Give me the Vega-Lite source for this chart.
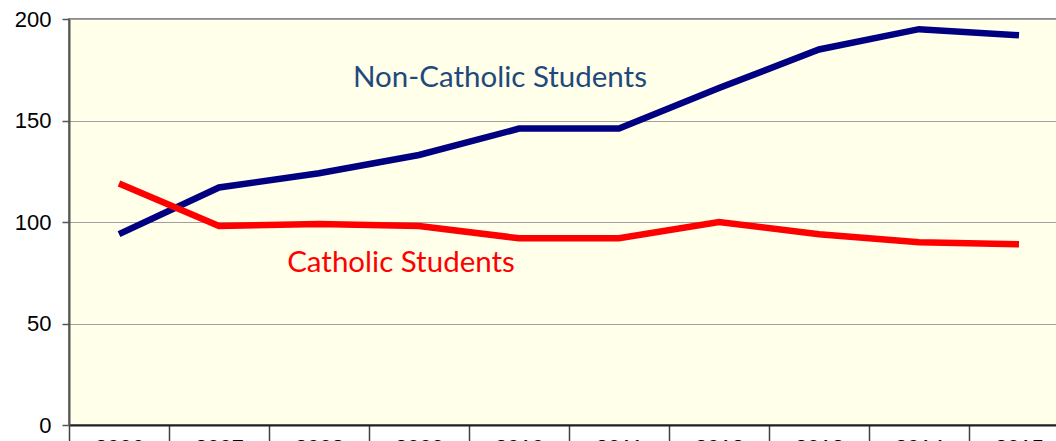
{
  "$schema": "https://vega.github.io/schema/vega-lite/v6.json",
  "width": 1000,
  "height": 406,
  "autosize": "none",
  "padding": {"left": 69, "top": 19, "right": 0, "bottom": 40},
  "background": "white",
  "config": {"view": {"fill": "#FFFFEA", "stroke": "#8C8C8C", "strokeWidth": 2}},
  "datasets": {
    "series": [
      {"year": 2006, "value": 94, "series": "Non-Catholic Students"},
      {"year": 2007, "value": 117, "series": "Non-Catholic Students"},
      {"year": 2008, "value": 124, "series": "Non-Catholic Students"},
      {"year": 2009, "value": 133, "series": "Non-Catholic Students"},
      {"year": 2010, "value": 146, "series": "Non-Catholic Students"},
      {"year": 2011, "value": 146, "series": "Non-Catholic Students"},
      {"year": 2012, "value": 166, "series": "Non-Catholic Students"},
      {"year": 2013, "value": 185, "series": "Non-Catholic Students"},
      {"year": 2014, "value": 195, "series": "Non-Catholic Students"},
      {"year": 2015, "value": 192, "series": "Non-Catholic Students"},
      {"year": 2006, "value": 119, "series": "Catholic Students"},
      {"year": 2007, "value": 98, "series": "Catholic Students"},
      {"year": 2008, "value": 99, "series": "Catholic Students"},
      {"year": 2009, "value": 98, "series": "Catholic Students"},
      {"year": 2010, "value": 92, "series": "Catholic Students"},
      {"year": 2011, "value": 92, "series": "Catholic Students"},
      {"year": 2012, "value": 100, "series": "Catholic Students"},
      {"year": 2013, "value": 94, "series": "Catholic Students"},
      {"year": 2014, "value": 90, "series": "Catholic Students"},
      {"year": 2015, "value": 89, "series": "Catholic Students"}
    ],
    "labels": [
      {"year": 2009.81, "value": 170.7, "series": "Non-Catholic Students"},
      {"year": 2008.82, "value": 80.0, "series": "Catholic Students"}
    ]
  },
  "layer": [
    {
      "data": {"name": "series"},
      "mark": {"type": "line", "strokeWidth": 6.5},
      "encoding": {
        "x": {
          "field": "year", "type": "quantitative",
          "scale": {"domain": [2005.5, 2015.5], "nice": false, "zero": false},
          "axis": {
            "title": null,
            "values": [2005.5, 2006.5, 2007.5, 2008.5, 2009.5, 2010.5, 2011.5, 2012.5, 2013.5, 2014.5, 2015.5],
            "labelExpr": "datum.value < 2015 ? format(datum.value + 0.5, 'd') : ''",
            "labelOffset": 50,
            "labelFlush": false,
            "labelOverlap": false,
            "labelFont": "Liberation Sans",
            "labelFontSize": 22,
            "labelColor": "black",
            "labelPadding": -4,
            "tickSize": 16,
            "tickColor": "#404040",
            "tickWidth": 1.5,
            "domainColor": "#202020",
            "domainWidth": 2,
            "grid": false
          }
        },
        "y": {
          "field": "value", "type": "quantitative",
          "scale": {"domain": [0, 200], "nice": false},
          "axis": {
            "title": null,
            "values": [0, 50, 100, 150, 200],
            "labelFont": "Liberation Sans",
            "labelFontSize": 22,
            "labelColor": "black",
            "labelPadding": 11,
            "tickSize": 7,
            "tickColor": "#555555",
            "tickWidth": 1.5,
            "domainColor": "#555555",
            "domainWidth": 2,
            "grid": true,
            "gridColor": "#A0A0A0",
            "gridWidth": 1
          }
        },
        "color": {
          "field": "series", "type": "nominal",
          "scale": {"domain": ["Non-Catholic Students", "Catholic Students"], "range": ["#000080", "#FF0000"]},
          "legend": null
        }
      }
    },
    {
      "data": {"name": "labels"},
      "mark": {"type": "text", "font": "Lato", "fontSize": 29.5, "baseline": "middle", "align": "center"},
      "encoding": {
        "x": {"field": "year", "type": "quantitative"},
        "y": {"field": "value", "type": "quantitative"},
        "text": {"field": "series"},
        "color": {
          "field": "series", "type": "nominal",
          "scale": {"domain": ["Non-Catholic Students", "Catholic Students"], "range": ["#1F497D", "#FF0000"]},
          "legend": null
        }
      }
    }
  ],
  "resolve": {"scale": {"color": "independent"}}
}
